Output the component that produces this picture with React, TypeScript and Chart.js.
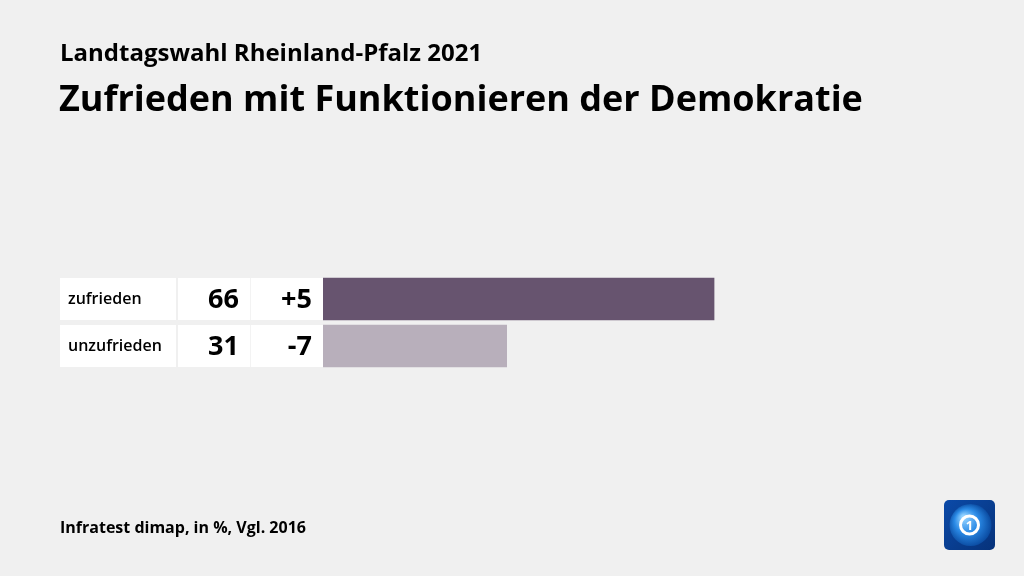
import React, { useEffect, useRef } from "react";
import { Chart, registerables } from "chart.js";

Chart.register(...registerables);

const categories = ["zufrieden", "unzufrieden"];
const values = [66, 31];
const changes = ["+5", "-7"];
const barColors = ["#67546f", "#b8afbb"];
const xMax = 100;

const FONT = "'Open Sans', 'Noto Sans', sans-serif";

export default function App() {
  const ref = useRef<HTMLCanvasElement>(null);

  useEffect(() => {
    const canvas = ref.current;
    if (!canvas) return;

    const rowsPlugin = {
      id: "rows",
      beforeDatasetsDraw(chart: any) {
        const ctx = chart.ctx;
        const y = chart.scales.y;
        const half = 21;
        ctx.save();
        categories.forEach((cat, i) => {
          const cy = y.getPixelForValue(i);
          ctx.fillStyle = "#ffffff";
          ctx.fillRect(60, cy - half, 116, half * 2);
          ctx.fillRect(178, cy - half, 145, half * 2);
          ctx.fillStyle = "#f3f3f3";
          ctx.fillRect(250, cy - half, 1, half * 2);
          ctx.fillStyle = "#000000";
          ctx.textBaseline = "middle";
          ctx.textAlign = "left";
          ctx.font = `600 16px ${FONT}`;
          ctx.fillText(cat, 68, cy);
          ctx.textAlign = "right";
          ctx.font = `bold 27px ${FONT}`;
          ctx.fillText(String(values[i]), 239, cy + 1);
          ctx.fillText(changes[i], 312, cy + 1);
        });
        ctx.restore();
      },
      afterDraw(chart: any) {
        const ctx = chart.ctx;
        ctx.save();
        const x = 944, yy = 500, w = 51, h = 50, r = 5;
        const g = ctx.createLinearGradient(x, yy, x + w, yy + h);
        g.addColorStop(0, "#0b4aa8");
        g.addColorStop(1, "#06327a");
        ctx.fillStyle = g;
        ctx.beginPath();
        ctx.roundRect(x, yy, w, h, r);
        ctx.fill();
        const cx = x + w / 2, cy = yy + h / 2;
        const rg = ctx.createRadialGradient(cx - 6, cy - 8, 2, cx, cy, 22);
        rg.addColorStop(0, "#8fd0ff");
        rg.addColorStop(0.5, "#2a8ae6");
        rg.addColorStop(1, "#0a4aa0");
        ctx.fillStyle = rg;
        ctx.beginPath();
        ctx.arc(cx + 1, cy, 21, 0, Math.PI * 2);
        ctx.fill();
        ctx.strokeStyle = "#ffffff";
        ctx.lineWidth = 3;
        ctx.beginPath();
        ctx.arc(cx, cy, 9, 0, Math.PI * 2);
        ctx.stroke();
        ctx.fillStyle = "#ffffff";
        ctx.font = `bold 13px ${FONT}`;
        ctx.textAlign = "center";
        ctx.textBaseline = "middle";
        ctx.fillText("1", cx, cy + 1);
        ctx.restore();
      },
    };

    const chart = new Chart(canvas, {
      type: "bar",
      data: {
        labels: categories,
        datasets: [
          {
            data: values,
            backgroundColor: barColors,
            borderWidth: 0,
            barThickness: 42,
          },
        ],
      },
      options: {
        indexAxis: "y",
        animation: false,
        responsive: false,
        maintainAspectRatio: false,
        layout: { padding: { left: 323, right: 108.5, top: 275.5, bottom: 206.5 } },
        scales: {
          x: { display: false, min: 0, max: xMax },
          y: { display: false },
        },
        plugins: { legend: { display: false }, tooltip: { enabled: false } },
      },
      plugins: [rowsPlugin],
    });
    return () => chart.destroy();
  }, []);

  return (
    <div
      style={{
        position: "fixed",
        left: 0,
        top: 0,
        width: 1024,
        height: 576,
        background: "#f0f0f0",
        overflow: "hidden",
        fontFamily: FONT,
      }}
    >
      <canvas ref={ref} width={1024} height={576} style={{ position: "absolute", left: 0, top: 0 }} />
      <div style={{ position: "absolute", left: 60, top: 35, fontSize: 24, lineHeight: "normal", fontWeight: 700, color: "#000", whiteSpace: "nowrap" }}>
        Landtagswahl Rheinland-Pfalz 2021
      </div>
      <div style={{ position: "absolute", left: 59, top: 73, fontSize: 36, lineHeight: "normal", fontWeight: 700, color: "#000", whiteSpace: "nowrap" }}>
        Zufrieden mit Funktionieren der Demokratie
      </div>
      <div style={{ position: "absolute", left: 60, top: 516, fontSize: 16, lineHeight: "normal", fontWeight: 700, color: "#000", whiteSpace: "nowrap" }}>
        Infratest dimap, in %, Vgl. 2016
      </div>
    </div>
  );
}
